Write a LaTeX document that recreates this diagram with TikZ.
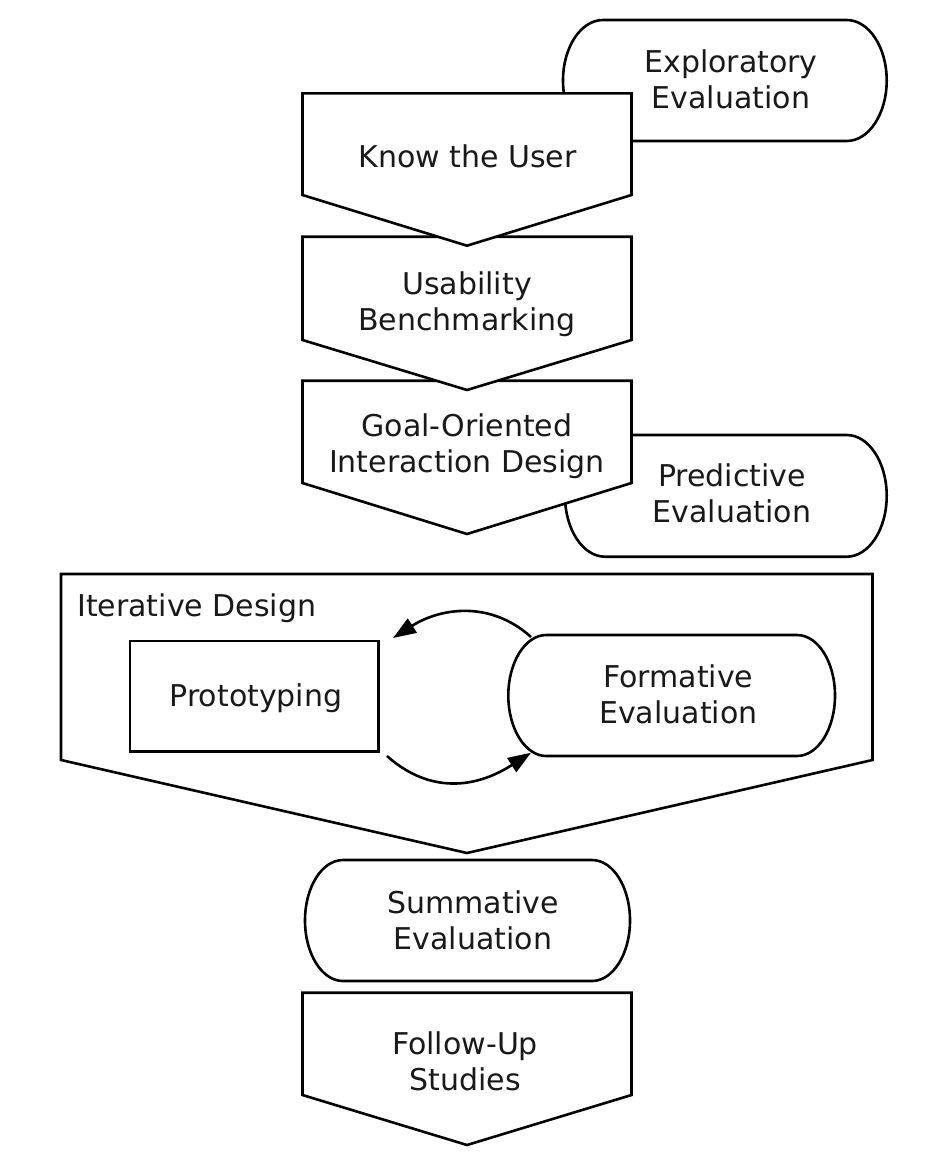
\documentclass[tikz,border=0pt]{standalone}
\usepackage{fontspec}
\setmainfont{DejaVu Sans}
\usetikzlibrary{arrows.meta}
\begin{document}
\begin{tikzpicture}[x=1pt,y=-1pt,
  shapeline/.style={draw=black, fill=white, line width=2.6pt, line join=miter},
  lbl/.style={align=center, font=\fontsize{30}{36.3}\selectfont, inner sep=0pt, text=black!90},
  cyc/.style={line width=2.6pt, -{Triangle[length=23pt,width=16.5pt]}}]
\useasboundingbox (0,0) rectangle (928,1162);

% Exploratory Evaluation
\path[shapeline] (603,20) -- (846.7,20)
  arc[start angle=-90,end angle=90,x radius=40,y radius=60.5] -- (603,141)
  arc[start angle=90,end angle=270,x radius=40,y radius=60.5] -- cycle;
\node[lbl] (explo) at (731,79) {Exploratory\\Evaluation};

% Predictive Evaluation
\path[shapeline] (605,435) -- (846.7,435)
  arc[start angle=-90,end angle=90,x radius=40,y radius=60.85] -- (605,556.7)
  arc[start angle=90,end angle=270,x radius=40,y radius=60.85] -- cycle;
\node[lbl] (pred) at (732,493.5) {Predictive\\Evaluation};

% Goal-Oriented Interaction Design
\path[shapeline] (302.5,380.7) -- (631.5,380.7) -- (631.5,483) -- (467,534) -- (302.5,483) -- cycle;
\node[lbl] (goal) at (467,446) {Goal-Oriented\\Interaction Design};

% Usability Benchmarking
\path[shapeline] (302.5,236.7) -- (631.5,236.7) -- (631.5,340) -- (467,390) -- (302.5,340) -- cycle;
\node[lbl] (usab) at (467,304) {Usability\\Benchmarking};

% Know the User
\path[shapeline] (302.5,93.3) -- (631.5,93.3) -- (631.5,195) -- (467,245.7) -- (302.5,195) -- cycle;
\node[lbl] (know) at (467.5,156) {Know the User};

% Iterative Design frame
\path[shapeline] (61,574) -- (872.5,574) -- (872.5,760) -- (467,853) -- (61,760) -- cycle;
\node[lbl, anchor=base west] (iter) at (77,616) {Iterative Design};

% Prototyping
\path[shapeline] (130,641) rectangle (378.3,751.7);
\node[lbl, anchor=base] (proto) at (256,706.7) {Prototyping};

% Formative Evaluation
\path[shapeline] (546.3,635) -- (797,635)
  arc[start angle=-90,end angle=90,x radius=38,y radius=60.5] -- (546.3,756)
  arc[start angle=90,end angle=270,x radius=38,y radius=60.5] -- cycle;
\node[lbl] (form) at (678.3,694) {Formative\\Evaluation};

% cycle arrows
\coordinate (fa) at (531,637);
\coordinate (pa) at (393,638);
\coordinate (pb) at (387,756);
\coordinate (fb) at (531,752.7);
\draw[cyc] (fa) .. controls (490,600) and (440,608) .. (pa);
\draw[cyc] (pb) .. controls (425,790) and (470,792) .. (fb);

% Summative Evaluation
\path[shapeline] (343,860) -- (592,860)
  arc[start angle=-90,end angle=90,x radius=38,y radius=60.5] -- (343,981)
  arc[start angle=90,end angle=270,x radius=38,y radius=60.5] -- cycle;
\node[lbl] (summ) at (473,920) {Summative\\Evaluation};

% Follow-Up Studies
\path[shapeline] (302.5,992.7) -- (631.5,992.7) -- (631.5,1095) -- (467,1145) -- (302.5,1095) -- cycle;
\node[lbl] (follow) at (465,1061.5) {Follow-Up\\Studies};
\end{tikzpicture}
\end{document}
